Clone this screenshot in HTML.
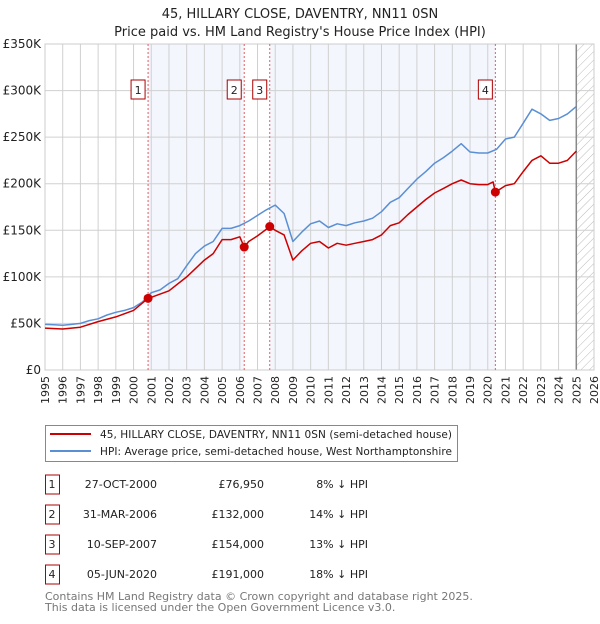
<!DOCTYPE html>
<html><head><meta charset="utf-8"><style>
body{margin:0;background:#fff;font-family:"DejaVu Sans","Liberation Sans",sans-serif;}
svg text{font-family:"DejaVu Sans","Liberation Sans",sans-serif;}
</style></head><body>
<svg id="c" width="600" height="620" viewBox="0 0 600 620" xmlns="http://www.w3.org/2000/svg">
<defs><pattern id="hatch" patternUnits="userSpaceOnUse" width="6" height="6" patternTransform="rotate(45)"><line x1="0" y1="0" x2="0" y2="6" stroke="#bbb" stroke-width="1"/></pattern></defs>
<text x="300" y="18" text-anchor="middle" font-size="13" fill="#222">45, HILLARY CLOSE, DAVENTRY, NN11 0SN</text>
<text x="300" y="36" text-anchor="middle" font-size="13" fill="#222">Price paid vs. HM Land Registry's House Price Index (HPI)</text>
<g id="plot"></g>
<g>
<rect x="45.5" y="425.5" width="412" height="36" fill="#fff" stroke="#888"/>
<line x1="50" y1="434" x2="91" y2="434" stroke="#cc0000" stroke-width="2"/>
<text x="100" y="438" font-size="10.5" fill="#222" textLength="352">45, HILLARY CLOSE, DAVENTRY, NN11 0SN (semi-detached house)</text>
<line x1="50" y1="451" x2="91" y2="451" stroke="#5b8fd4" stroke-width="2"/>
<text x="100" y="455" font-size="10.5" fill="#222" textLength="352">HPI: Average price, semi-detached house, West Northamptonshire</text>
</g>
<g id="table" font-size="11" fill="#222"></g>
<text x="45" y="600" font-size="11" fill="#777">Contains HM Land Registry data © Crown copyright and database right 2025.</text>
<text x="45" y="611" font-size="11" fill="#777">This data is licensed under the Open Government Licence v3.0.</text>
</svg>
<script>
const hpiYears=[1995,1995.5,1996,1996.5,1997,1997.5,1998,1998.5,1999,1999.5,2000,2000.5,2001,2001.5,2002,2002.5,2003,2003.5,2004,2004.5,2005,2005.5,2006,2006.5,2007,2007.5,2008,2008.5,2009,2009.5,2010,2010.5,2011,2011.5,2012,2012.5,2013,2013.5,2014,2014.5,2015,2015.5,2016,2016.5,2017,2017.5,2018,2018.5,2019,2019.5,2020,2020.5,2021,2021.5,2022,2022.5,2023,2023.5,2024,2024.5,2025];
const hpiValues=[49,48.5,48,49,50,53,55,59,62,64,67,73,83,86,93,98,112,125,133,138,152,152,155,160,166,172,177,168,138,148,157,160,153,157,155,158,160,163,170,180,185,195,205,213,222,228,235,243,234,233,233,237,248,250,265,280,275,268,270,275,283];
const propYears=[1995,1996,1997,1998,1999,2000,2000.82,2001,2002,2003,2004,2004.5,2005,2005.5,2006,2006.25,2006.5,2007,2007.7,2008,2008.5,2009,2009.5,2010,2010.5,2011,2011.5,2012,2012.5,2013,2013.5,2014,2014.5,2015,2015.5,2016,2016.5,2017,2017.5,2018,2018.5,2019,2019.5,2020,2020.3,2020.43,2021,2021.5,2022,2022.5,2023,2023.5,2024,2024.5,2025];
const propValues=[45,44,46,52,57,64,77,78,85,100,118,125,140,140,143,132,138,144,154,150,145,118,128,136,138,131,136,134,136,138,140,145,155,158,167,175,183,190,195,200,204,200,199,199,202,191,198,200,213,225,230,222,222,225,235];
const saleLabels=["1","2","3","4"];
const saleYears=[2000.82,2006.25,2007.69,2020.43];
const saleValues=[76.95,132,154,191];
const saleDates=["27-OCT-2000","31-MAR-2006","10-SEP-2007","05-JUN-2020"];
const salePrices=["£76,950","£132,000","£154,000","£191,000"];
const saleDiffs=["8% ↓ HPI","14% ↓ HPI","13% ↓ HPI","18% ↓ HPI"];
const yTicks=[0,50,100,150,200,250,300,350];
const yTickLabels=["£0","£50K","£100K","£150K","£200K","£250K","£300K","£350K"];
const xTicks=[1995,1996,1997,1998,1999,2000,2001,2002,2003,2004,2005,2006,2007,2008,2009,2010,2011,2012,2013,2014,2015,2016,2017,2018,2019,2020,2021,2022,2023,2024,2025,2026];

const NS="http://www.w3.org/2000/svg";
const L=45,R=594,T=44,B=370,X0=1995,X1=2026,YMAX=350;
const x=v=>L+(v-X0)/(X1-X0)*(R-L);
const y=v=>B-v/YMAX*(B-T);
const plot=document.getElementById('plot');
function mk(tag,attrs,parent){const e=document.createElementNS(NS,tag);for(const k in attrs)e.setAttribute(k,attrs[k]);(parent||plot).appendChild(e);return e;}

for(const [a,b] of [[0,1],[2,3]]){
  const r=mk('rect',{x:x(saleYears[a]),y:T,width:x(saleYears[b])-x(saleYears[a]),height:B-T,fill:'#f3f6fd'});
  
  
}
const hz=mk('rect',{x:x(2025),y:T,width:R-x(2025),height:B-T,fill:'url(#hatch)'});


xTicks.forEach(t=>{
  const g=mk('line',{x1:x(t),x2:x(t),y1:T,y2:B,stroke:'#d0d0d0','stroke-width':1});
  
  
  const tx=mk('text',{x:0,y:0,'font-size':11,fill:'#222','text-anchor':'end',transform:`translate(${x(t)+4},${B+6}) rotate(-90)`});
  tx.textContent=t;
  
  
});
yTicks.forEach((t,i)=>{
  const g=mk('line',{x1:L,x2:R,y1:y(t),y2:y(t),stroke:'#d0d0d0','stroke-width':1});
  
  
  const tx=mk('text',{x:L-4,y:y(t)+4,'font-size':12,fill:'#222','text-anchor':'end'});
  tx.textContent=yTickLabels[i];
  
  
});
const nl=mk('line',{x1:x(2025),x2:x(2025),y1:T,y2:B,stroke:'#888','stroke-width':1.5});


const fr=mk('rect',{x:L,y:T,width:R-L,height:B-T,fill:'none',stroke:'#ccc'});


saleYears.forEach((s,i)=>{
  const v=mk('line',{x1:x(s),x2:x(s),y1:T,y2:B,stroke:'#e06060','stroke-width':1,'stroke-dasharray':'2,2'});
  
  
  const bx=mk('rect',{x:x(s)-17,y:80,width:14,height:19,fill:'#fff',stroke:'#aa0000'});
  
  
  const t=mk('text',{x:x(s)-10,y:94,'font-size':11,fill:'#222','text-anchor':'middle'});
  t.textContent=saleLabels[i];
  
  
});
function line(xs,vs,col,name){
  const d=xs.map((a,i)=>(i?'L':'M')+x(a).toFixed(1)+','+y(vs[i]).toFixed(1)).join('');
  const p=mk('path',{d:d,fill:'none',stroke:col,'stroke-width':1.5,'stroke-linejoin':'round'});
  
  
}
line(hpiYears,hpiValues,'#5b8fd4','hpi-line');
line(propYears,propValues,'#cc0000','property-price-line');
saleYears.forEach((s,i)=>{
  const c=mk('circle',{cx:x(s),cy:y(saleValues[i]),r:4.5,fill:'#cc0000'});
  
  
});
const tb=document.getElementById('table');
saleLabels.forEach((l,i)=>{
  const yy=488+i*30;
  const b=mk('rect',{x:45.5,y:yy-13,width:14,height:19,fill:'#fff',stroke:'#aa0000'},tb);
  
  
  const cells=[[l,52,'middle'],[saleDates[i],157,'end'],[salePrices[i],264,'end'],[saleDiffs[i],368,'end']];
  cells.forEach(([txt,xx,an],j)=>{
    const t=mk('text',{x:xx,y:yy,'text-anchor':an},tb);
    t.textContent=txt;
    
    
  });
});
</script>
</body></html>
